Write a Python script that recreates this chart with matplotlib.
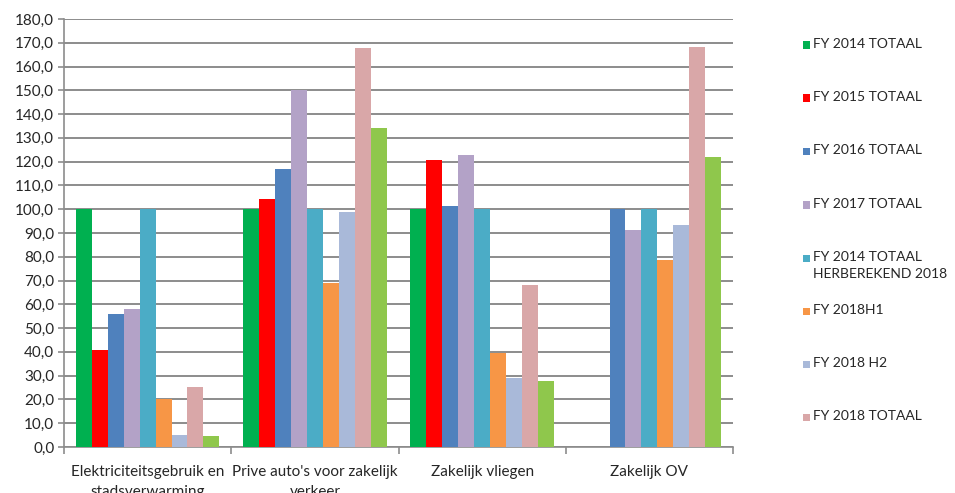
import matplotlib
matplotlib.use("Agg")
import matplotlib.pyplot as plt
import numpy as np
from matplotlib.patches import Rectangle
from matplotlib.ticker import FuncFormatter, MultipleLocator

plt.rcParams['font.family'] = ['Lato', 'DejaVu Sans']

categories = ["Elektriciteitsgebruik en\nstadsverwarming",
              "Prive auto's voor zakelijk\nverkeer",
              "Zakelijk vliegen",
              "Zakelijk OV"]

series_names = ["FY 2014 TOTAAL", "FY 2015 TOTAAL", "FY 2016 TOTAAL",
                "FY 2017 TOTAAL", "FY 2014 TOTAAL\nHERBEREKEND 2018",
                "FY 2018H1", "FY 2018 H2", "FY 2018 TOTAAL", "FY 2019"]

fy2014 = [100.0, 100.0, 100.0, 0.0]
fy2015 = [40.7, 104.2, 120.6, 0.0]
fy2016 = [56.0, 117.0, 101.3, 100.0]
fy2017 = [58.2, 150.0, 122.6, 91.2]
fy2014_herberekend = [100.0, 100.0, 100.0, 100.0]
fy2018_h1 = [20.2, 68.8, 39.6, 78.5]
fy2018_h2 = [5.0, 98.8, 29.1, 93.5]
fy2018_totaal = [25.2, 167.8, 68.3, 168.2]
fy2019 = [4.6, 134.0, 27.8, 122.0]

series_values = [fy2014, fy2015, fy2016, fy2017, fy2014_herberekend,
                 fy2018_h1, fy2018_h2, fy2018_totaal, fy2019]

colors = ["#00B050", "#FF0000", "#4F81BD", "#B3A2C7", "#4BACC6",
          "#F79646", "#A9B9D9", "#D9A7A8", "#8FC74C"]

fig = plt.figure(figsize=(9.55, 4.93), dpi=100)
ax = fig.add_axes([64 / 955, 1 - 447 / 493, (733 - 64) / 955, (447 - 19) / 493])

n = len(series_values)
x = np.arange(len(categories))
group_width = 9 / 10.5
w = group_width / n
for i, vals in enumerate(series_values):
    offs = -group_width / 2 + w * (i + 0.5)
    ax.bar(x + offs, vals, width=w, color=colors[i], edgecolor='none', zorder=3)

ax.set_xlim(-0.5, len(categories) - 0.5)
ax.set_ylim(0, 180)
ax.yaxis.set_major_locator(MultipleLocator(10))
ax.yaxis.set_major_formatter(FuncFormatter(lambda v, p: f"{v:.1f}".replace('.', ',')))

grid_col = "#8C8C8C"
ax.yaxis.grid(True, color=grid_col, linewidth=1.4, zorder=0)
ax.set_axisbelow(True)
for s in ['top', 'right']:
    ax.spines[s].set_visible(False)
for s in ['left', 'bottom']:
    ax.spines[s].set_color(grid_col)
    ax.spines[s].set_linewidth(1.2)

ax.set_xticks(x)
ax.set_xticklabels(categories, linespacing=1.55)
ax.tick_params(axis='x', length=0, pad=13, labelsize=11, colors='#262626')
ax.set_xticks(np.arange(len(categories) + 1) - 0.5, minor=True)
ax.tick_params(axis='x', which='minor', length=5, color=grid_col, width=1.2)
ax.tick_params(axis='y', length=4, color=grid_col, width=1.2, labelsize=11,
               labelcolor='#262626', pad=3)

# legend entries listed on the right side
leg_x = 803 / 955
slot_y = [45, 98, 151, 205, 258, 311, 364, 417]
for i in range(8):
    yc = 1 - slot_y[i] / 493
    fig.patches.append(Rectangle((leg_x, yc - 3.5 / 493), 7 / 955, 7 / 493,
                                 transform=fig.transFigure, facecolor=colors[i],
                                 edgecolor='none'))
    fig.text(813 / 955, yc + 7 / 493, series_names[i], ha='left', va='top',
             fontsize=10, color='#262626', linespacing=1.5)

fig.savefig("out.png", dpi=100)
